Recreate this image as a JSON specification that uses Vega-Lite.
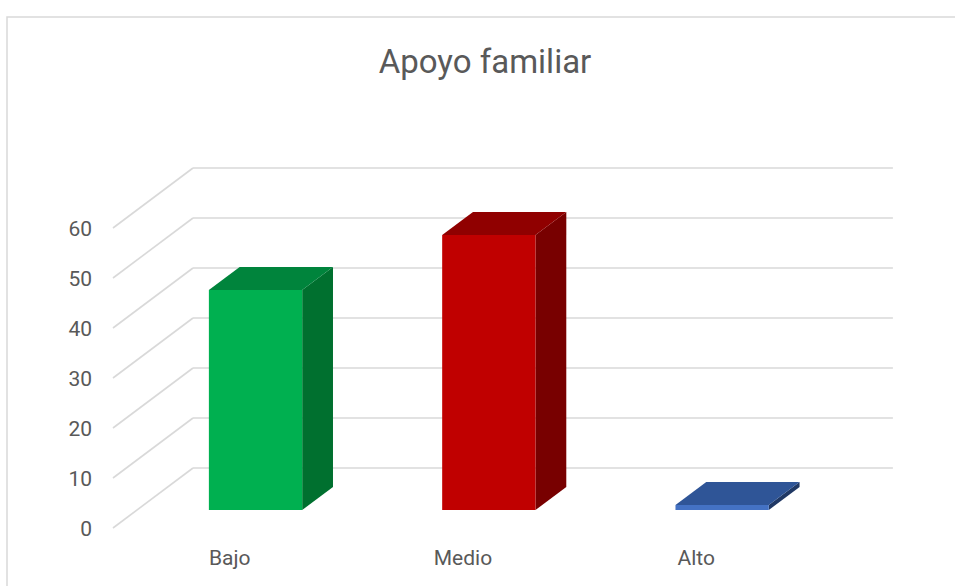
{
  "$schema": "https://vega.github.io/schema/vega-lite/v6.json",
  "width": 950,
  "height": 571,
  "autosize": {"type": "none"},
  "padding": {"left": 7, "top": 17, "right": -2, "bottom": -2},
  "background": "white",
  "config": {"view": {"stroke": "#d9d9d9", "strokeWidth": 1.5}, "font": "Roboto"},
  "title": {"text": "Apoyo familiar", "fontSize": 33, "font": "Roboto", "fontWeight": "normal", "color": "#595959", "anchor": "middle", "baseline": "alphabetic", "offset": -56, "dy": 33, "dx": 3},
  "datasets": {
    "bars": [
      {"cat": "Bajo", "value": 44},
      {"cat": "Medio", "value": 55},
      {"cat": "Alto", "value": 1}
    ],
    "ticks": [{"v": 0}, {"v": 10}, {"v": 20}, {"v": 30}, {"v": 40}, {"v": 50}, {"v": 60}]
  },
  "layer": [
    {
      "data": {"name": "ticks"},
      "transform": [{"calculate": "datum.v + 12", "as": "yb"}],
      "mark": {"type": "rule", "color": "#d9d9d9", "strokeWidth": 1.6},
      "encoding": {
        "x": {"datum": 0.343, "type": "quantitative", "scale": {"domain": [-0.4543, 3.6177], "nice": false, "zero": false}, "axis": null},
        "x2": {"datum": 3.343},
        "y": {"field": "yb", "type": "quantitative", "scale": {"domain": [-12, 102.2], "nice": false, "zero": false}, "axis": null}
      }
    },
    {
      "data": {"name": "ticks"},
      "transform": [{"calculate": "datum.v + 12", "as": "yb"}],
      "mark": {"type": "rule", "color": "#d9d9d9", "strokeWidth": 1.6},
      "encoding": {
        "x": {"datum": 0, "type": "quantitative", "axis": null},
        "x2": {"datum": 0.343},
        "y": {"field": "v", "type": "quantitative", "axis": null},
        "y2": {"field": "yb"}
      }
    },
    {
      "data": {"name": "ticks"},
      "mark": {"type": "text", "fontSize": 21, "color": "#595959", "align": "right", "baseline": "middle", "dx": -21, "dy": 2, "font": "Roboto"},
      "encoding": {
        "x": {"datum": 0, "type": "quantitative", "axis": null},
        "y": {"field": "v", "type": "quantitative", "axis": null},
        "text": {"field": "v", "type": "quantitative"}
      }
    },
    {
      "data": {"name": "bars"},
      "transform": [
        {"window": [{"op": "row_number", "as": "rn"}]},
        {"calculate": "[0, 1]", "as": "d"},
        {"flatten": ["d"]},
        {"calculate": "datum.rn - 1 + 0.811 + datum.d * 0.132", "as": "sx"},
        {"calculate": "datum.value + 3.6 + datum.d * 4.62", "as": "st"},
        {"calculate": "3.6 + datum.d * 4.62", "as": "sb"}
      ],
      "mark": {"type": "area", "orient": "vertical"},
      "encoding": {
        "x": {"field": "sx", "type": "quantitative", "axis": null},
        "y": {"field": "st", "type": "quantitative", "axis": null},
        "y2": {"field": "sb"},
        "detail": {"field": "cat"},
        "color": {"field": "cat", "type": "nominal", "legend": null, "scale": {"domain": ["Bajo", "Medio", "Alto"], "range": ["#00702F", "#780000", "#203864"]}}
      }
    },
    {
      "data": {"name": "bars"},
      "transform": [
        {"window": [{"op": "row_number", "as": "rn"}]},
        {"calculate": "[0, 1]", "as": "d"},
        {"flatten": ["d"]},
        {"calculate": "datum.rn - 1 + 0.411 + datum.d * 0.132", "as": "tx"},
        {"calculate": "datum.tx + 0.4", "as": "tx2"},
        {"calculate": "datum.value + 3.6 + datum.d * 4.62", "as": "ty"}
      ],
      "mark": {"type": "area", "orient": "horizontal"},
      "encoding": {
        "x": {"field": "tx", "type": "quantitative", "axis": null},
        "x2": {"field": "tx2"},
        "y": {"field": "ty", "type": "quantitative", "axis": null},
        "detail": {"field": "cat"},
        "color": {"field": "cat", "type": "nominal", "legend": null, "scale": {"domain": ["Bajo", "Medio", "Alto"], "range": ["#00843C", "#900000", "#2F5597"]}}
      }
    },
    {
      "data": {"name": "bars"},
      "transform": [
        {"window": [{"op": "row_number", "as": "rn"}]},
        {"calculate": "datum.rn - 1 + 0.411", "as": "xl"},
        {"calculate": "datum.xl + 0.4", "as": "xr"},
        {"calculate": "3.6", "as": "y0"},
        {"calculate": "datum.value + 3.6", "as": "y1"}
      ],
      "mark": {"type": "rect"},
      "encoding": {
        "x": {"field": "xl", "type": "quantitative", "axis": null},
        "x2": {"field": "xr"},
        "y": {"field": "y0", "type": "quantitative", "axis": null},
        "y2": {"field": "y1"},
        "color": {"field": "cat", "type": "nominal", "legend": null, "scale": {"domain": ["Bajo", "Medio", "Alto"], "range": ["#00B050", "#C00000", "#4472C4"]}}
      }
    },
    {
      "data": {"name": "bars"},
      "transform": [
        {"window": [{"op": "row_number", "as": "rn"}]},
        {"calculate": "datum.rn - 1 + 0.5", "as": "xc"}
      ],
      "mark": {"type": "text", "fontSize": 21, "color": "#595959", "baseline": "alphabetic", "dy": 37, "font": "Roboto"},
      "encoding": {
        "x": {"field": "xc", "type": "quantitative", "axis": null},
        "y": {"datum": 0, "type": "quantitative", "axis": null},
        "text": {"field": "cat"}
      }
    }
  ],
  "resolve": {"scale": {"color": "independent"}}
}
